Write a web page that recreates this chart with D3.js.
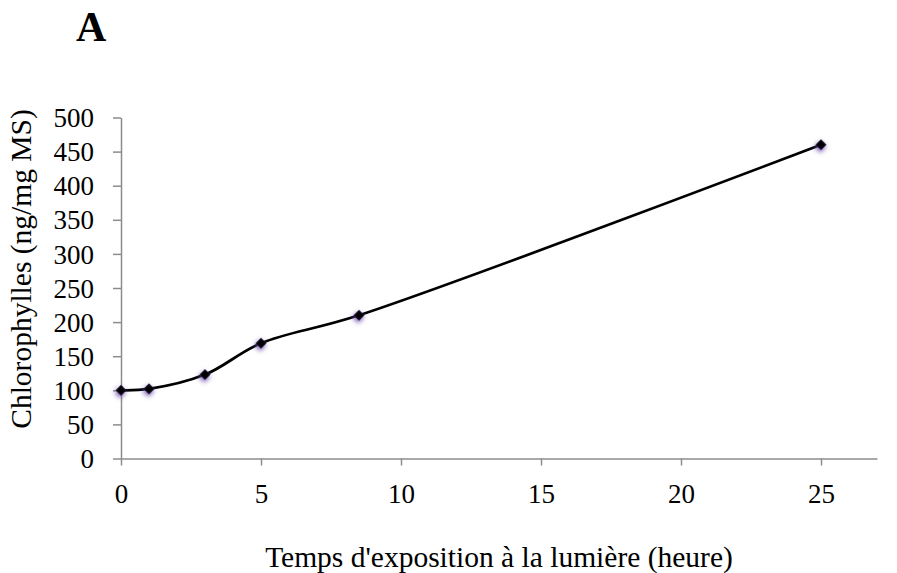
<!DOCTYPE html>
<html>
<head>
<meta charset="utf-8">
<script src="https://cdn.jsdelivr.net/npm/d3@7"></script>
<style>
  body { margin: 0; background: #fff; }
  svg { display: block; }
  text { font-family: "Liberation Serif", "Times New Roman", serif; fill: #000; }
</style>
</head>
<body>
<svg width="897" height="573"></svg>
<script>
// data
var hours = [0, 1, 3, 5, 8.5, 25];
var chloro = [100, 102, 123, 169, 210, 460];
var xTicks = [0, 5, 10, 15, 20, 25];
var yTicks = [0, 50, 100, 150, 200, 250, 300, 350, 400, 450, 500];

var svg = d3.select("svg");

var x = d3.scaleLinear().domain([0, 27]).range([121, 877]);
var y = d3.scaleLinear().domain([0, 500]).range([458.5, 117.5]);

var axisColor = "#8c8c8c";

// soft purple glow behind markers
var defs = svg.append("defs");
var f = defs.append("filter").attr("id", "glow")
  .attr("x", "-150%").attr("y", "-150%").attr("width", "400%").attr("height", "400%");
f.append("feDropShadow").attr("dx", 1).attr("dy", 2).attr("stdDeviation", 2.6)
  .attr("flood-color", "#6a48a8").attr("flood-opacity", 1);

// y axis
var yAxis = svg.append("g")
  .attr("transform", "translate(" + x(0) + ",0)")
  .call(d3.axisLeft(y).tickValues(yTicks).tickSize(8).tickSizeOuter(0).tickPadding(19));
yAxis.attr("font-family", null).attr("font-size", null);
yAxis.selectAll("text").style("font-size", "27px").attr("dy", "0.34em");

// x axis
var xAxis = svg.append("g")
  .attr("transform", "translate(0," + y(0) + ")")
  .call(d3.axisBottom(x).tickValues(xTicks).tickSize(7).tickSizeOuter(0).tickPadding(37));
xAxis.attr("font-family", null).attr("font-size", null);
xAxis.selectAll("text").style("font-size", "27px").attr("dy", "0em");

svg.selectAll(".domain, .tick line").attr("stroke", axisColor).attr("stroke-width", 1.5);

// smoothed line
var pts = hours.map(function (h, i) { return [h, chloro[i]]; });
var line = d3.line()
  .x(function (d) { return x(d[0]); })
  .y(function (d) { return y(d[1]); })
  .curve(d3.curveCatmullRom.alpha(0.5));

svg.append("path")
  .datum(pts)
  .attr("d", line)
  .attr("fill", "none")
  .attr("stroke", "#000")
  .attr("stroke-width", 2.7);

// diamond markers
svg.append("g").selectAll("path")
  .data(pts)
  .enter()
  .append("path")
  .attr("d", d3.symbol().type(d3.symbolSquare).size(60))
  .attr("transform", function (d) { return "translate(" + x(d[0]) + "," + y(d[1]) + ") rotate(45)"; })
  .attr("fill", "#000")
  .attr("filter", "url(#glow)");

// titles
svg.append("text")
  .attr("x", 76).attr("y", 41)
  .style("font-size", "42px").style("font-weight", "bold")
  .text("A");

svg.append("text")
  .attr("transform", "translate(31,269) rotate(-90)")
  .attr("text-anchor", "middle")
  .style("font-size", "29.5px")
  .text("Chlorophylles (ng/mg MS)");

svg.append("text")
  .attr("x", 499).attr("y", 567)
  .attr("text-anchor", "middle")
  .style("font-size", "29.5px")
  .text("Temps d'exposition à la lumière (heure)");
</script>
</body>
</html>
